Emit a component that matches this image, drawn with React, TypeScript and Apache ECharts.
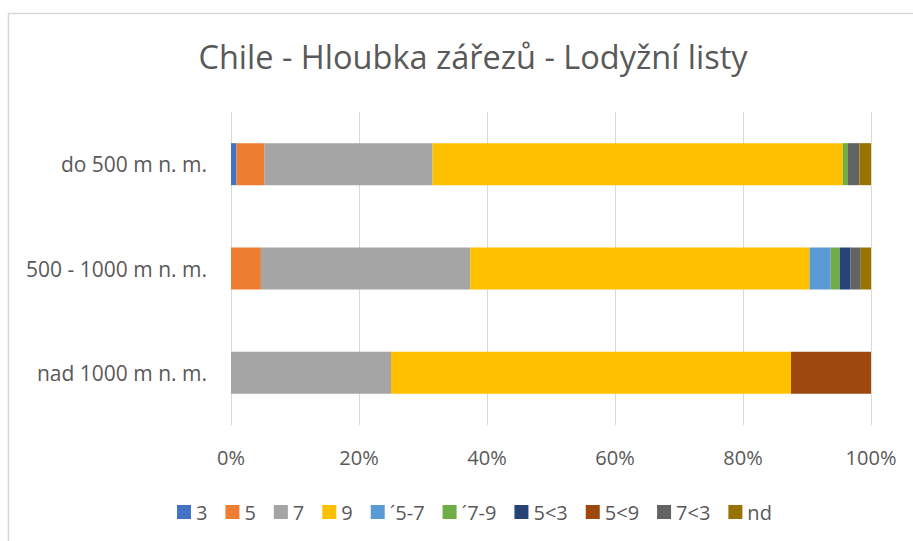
import React, { useEffect, useRef } from "react";
import * as echarts from "echarts";

const categories = ["do 500 m n. m.", "500 - 1000 m n. m.", "nad 1000 m n. m."];
const seriesNames = ["3", "5", "7", "9", "\u00B45-7", "\u00B47-9", "5<3", "5<9", "7<3", "nd"];
const s3 = [0.86, 0, 0];
const s5 = [4.34, 4.67, 0];
const s7 = [26.3, 32.7, 25];
const s9 = [64.1, 53.03, 62.5];
const s57 = [0, 3.3, 0];
const s79 = [0.8, 1.4, 0];
const s53 = [0, 1.7, 0];
const s59 = [0, 0, 12.5];
const s73 = [1.8, 1.6, 0];
const sNd = [1.8, 1.6, 0];
const seriesValues = [s3, s5, s7, s9, s57, s79, s53, s59, s73, sNd];
const colors = ["#4472C4", "#ED7D31", "#A5A5A5", "#FFC000", "#5B9BD5", "#70AD47", "#264478", "#9E480E", "#636363", "#997300"];
const xTicks = { min: 0, max: 100, interval: 20 };

const FONT = "'Open Sans', 'Noto Sans', sans-serif";
const TXT = "#595959";

export default function App() {
  const ref = useRef<HTMLDivElement>(null);
  useEffect(() => {
    if (!ref.current) return;
    const chart = echarts.init(ref.current, undefined, { renderer: "svg" });
    chart.setOption({
      animation: false,
      color: colors,
      textStyle: { fontFamily: FONT },
      title: {
        text: "Chile - Hloubka zářezů - Lodyžní listy",
        left: 468,
        textAlign: "center",
        top: 35,
        textStyle: { fontFamily: FONT, fontSize: 32.5, fontWeight: "normal", color: TXT },
      },
      graphic: [
        {
          type: "rect",
          shape: { x: 8.5, y: 13.5, width: 1200, height: 1200 },
          style: { fill: "none", stroke: "#d9d9d9", lineWidth: 1.5 },
          silent: true,
        },
      ],
      legend: {
        left: 172,
        top: 497,
        itemWidth: 14,
        itemHeight: 14,
        itemGap: 18,
        icon: "rect",
        data: seriesNames,
        textStyle: { fontFamily: FONT, fontSize: 20, color: TXT },
      },
      grid: { left: 231, right: 42, top: 112, bottom: 116, containLabel: false },
      xAxis: {
        type: "value",
        min: xTicks.min,
        max: xTicks.max,
        interval: xTicks.interval,
        axisLine: { show: false },
        axisTick: { show: false },
        splitLine: { lineStyle: { color: "#d9d9d9", width: 1 } },
        axisLabel: { formatter: "{value}%", fontFamily: FONT, fontSize: 20, color: TXT, margin: 22 },
      },
      yAxis: {
        type: "category",
        data: categories,
        inverse: true,
        axisLine: { show: true, lineStyle: { color: "#d9d9d9", width: 1 } },
        axisTick: { show: false },
        axisLabel: { fontFamily: FONT, fontSize: 21, color: TXT, margin: 24 },
      },
      series: seriesNames.map((name, i) => ({
        name,
        type: "bar",
        stack: "total",
        barWidth: 42,
        data: seriesValues[i],
        itemStyle: { color: colors[i] },
      })),
    });
    return () => chart.dispose();
  }, []);
  return (
    <div
      ref={ref}
      style={{ position: "absolute", left: 0, top: 0, width: 913, height: 541, background: "#fff" }}
    />
  );
}
